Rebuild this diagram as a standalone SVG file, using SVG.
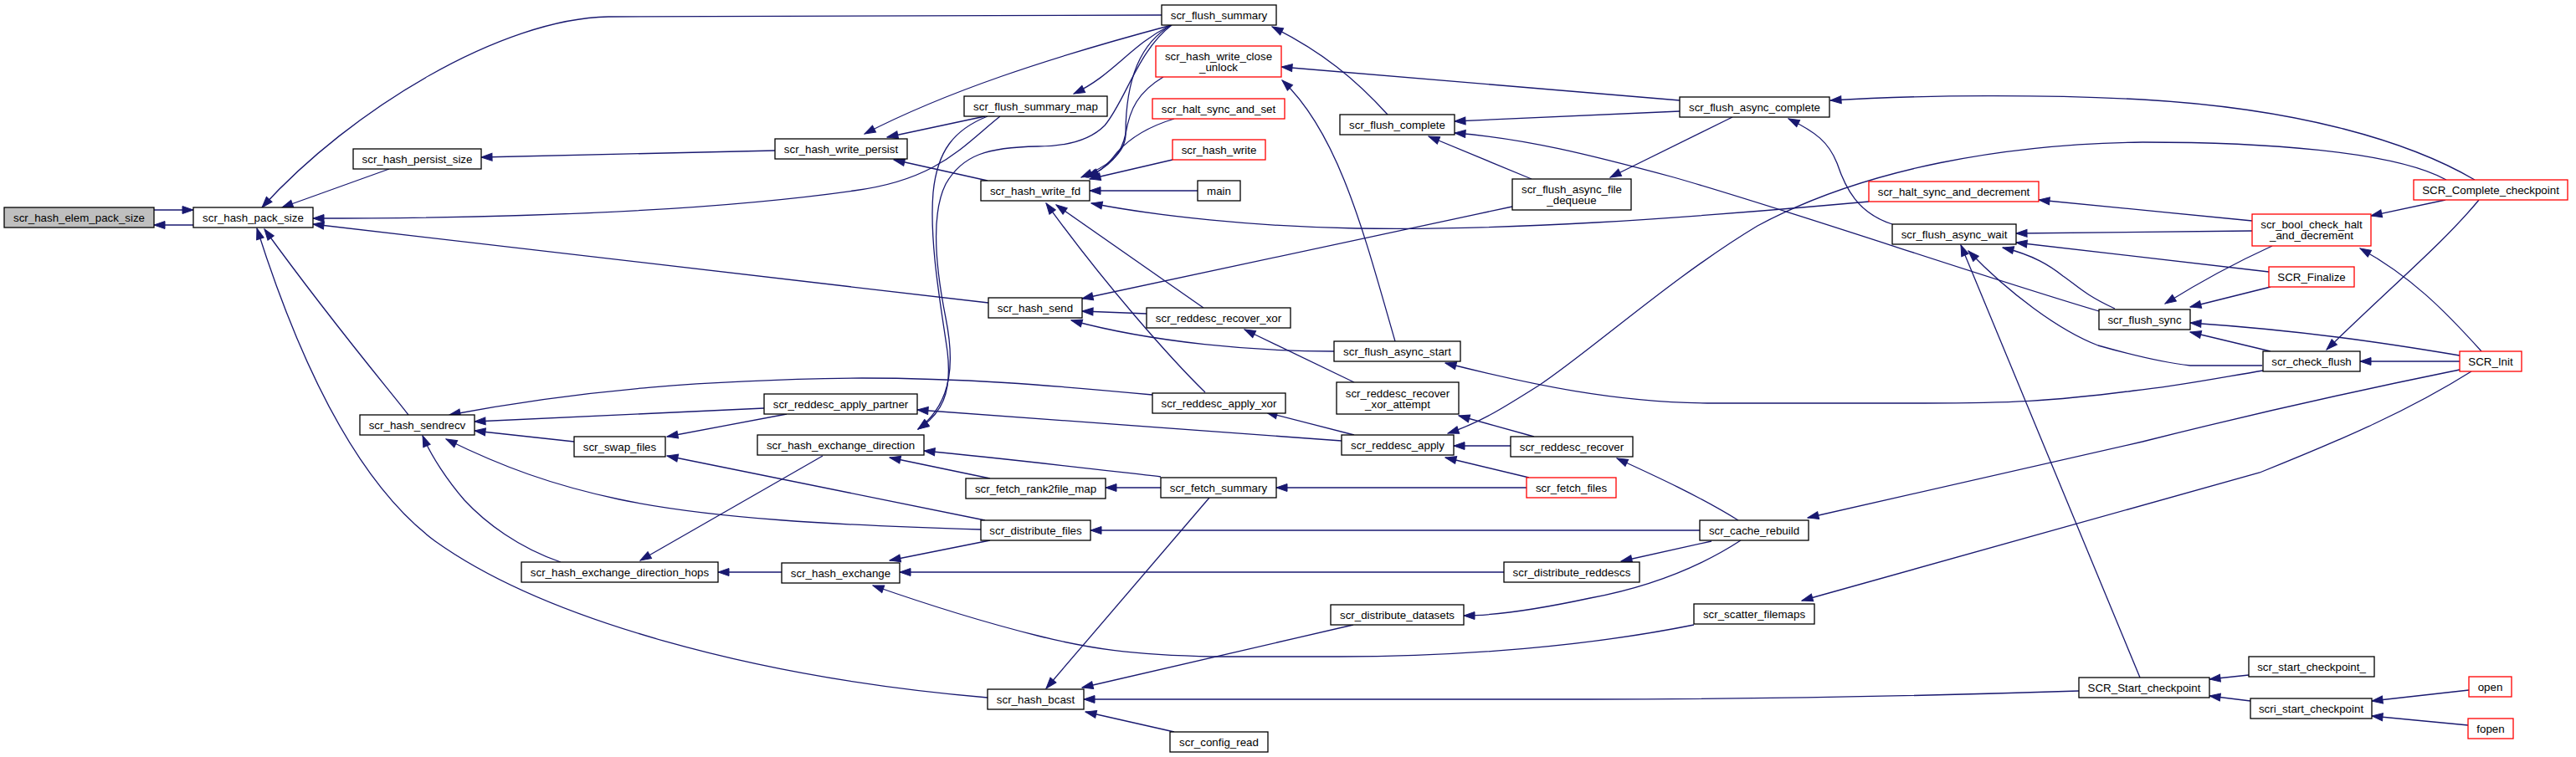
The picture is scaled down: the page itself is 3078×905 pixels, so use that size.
<svg xmlns="http://www.w3.org/2000/svg" width="3078" height="905" viewBox="0 0 3078 905">
<defs>
<style>
.n rect{fill:#fff;stroke:#000;stroke-width:1.3}
.n.r rect{stroke:#f00}
.n.g rect{fill:#bfbfbf}
text{font-family:"Liberation Sans",Arial,sans-serif;font-size:13.33px;text-anchor:middle;fill:#000}
.e path{fill:none;stroke:#191970;stroke-width:1.3;marker-end:url(#a)}
</style>
<marker id="a" markerUnits="userSpaceOnUse" markerWidth="15" markerHeight="11" viewBox="0 0 15 11" refX="14" refY="5.5" orient="auto"><path d="M1,1 L14,5.5 L1,10 z" fill="#191970" stroke="#191970" stroke-width="1"/></marker>
</defs>
<rect width="3078" height="905" fill="#fff"/>
<g id="edges" class="e">
<path d="M184,251 L231,251"/>
<path d="M231,269 L184,269"/>
<path d="M465,202 L337,248"/>
<path d="M1388,18 L727,20 C600,22 420,130 313,248"/>
<path d="M1195,139 C1150,175 1120,215 1020,228 C900,245 700,261 374,261"/>
<path d="M1181,362 L374,268"/>
<path d="M488,496 C470,472 400,390 316,274"/>
<path d="M1180,834 C900,810 650,740 520,647 C430,580 360,440 307,273"/>
<path d="M926,180 L575,188"/>
<path d="M1400,30 C1250,70 1130,110 1033,160"/>
<path d="M1177,139 L1060,164"/>
<path d="M1180,216 L1068,191"/>
<path d="M1397,31 C1350,55 1330,90 1283,112"/>
<path d="M1400,30 C1355,55 1345,110 1345,160 C1345,185 1320,200 1292,212"/>
<path d="M1390,92 C1360,110 1350,130 1345,160 C1340,185 1325,200 1298,212"/>
<path d="M1403,142 C1370,152 1350,165 1335,182 C1325,195 1318,203 1300,212"/>
<path d="M1401,191 L1302,214"/>
<path d="M1431,228 L1302,228"/>
<path d="M2233,241 C2000,262 1800,276 1620,273 C1500,271 1380,258 1304,243"/>
<path d="M1438,368 L1262,245"/>
<path d="M1440,469 C1400,430 1320,340 1250,243"/>
<path d="M1400,30 C1360,60 1345,120 1320,150 C1300,170 1270,175 1240,175 C1180,176 1150,185 1130,220 C1110,260 1120,330 1130,380 C1140,430 1140,480 1097,513"/>
<path d="M1180,139 C1140,155 1120,180 1115,230 C1110,290 1125,370 1132,420 C1138,470 1125,495 1097,513"/>
<path d="M1658,137 C1620,95 1580,62 1520,32"/>
<path d="M2007,120 L1531,80"/>
<path d="M1667,408 C1630,280 1600,160 1532,96"/>
<path d="M2007,133 L1738,145"/>
<path d="M2508,372 C2350,325 2150,255 2000,212 C1900,185 1820,165 1738,159"/>
<path d="M1830,214 L1707,163"/>
<path d="M2070,140 L1924,212"/>
<path d="M1807,247 L1293,357"/>
<path d="M1370,375 L1293,372"/>
<path d="M1594,420 C1500,420 1380,410 1280,383"/>
<path d="M1618,457 L1487,394"/>
<path d="M2704,443 C2650,452 2600,462 2550,467 C2450,480 2400,482 2300,482 L2040,482 C1930,481 1830,460 1727,434"/>
<path d="M2261,268 C2220,255 2205,225 2195,195 C2185,170 2170,158 2137,142"/>
<path d="M2957,215 C2880,170 2750,130 2560,119 C2450,113 2300,113 2187,120"/>
<path d="M2923,215 C2860,180 2700,170 2560,170 C2400,172 2230,200 2100,270 C2000,330 1900,420 1840,460 C1800,485 1770,505 1730,518"/>
<path d="M2922,239 L2833,258"/>
<path d="M2962,239 C2920,290 2860,340 2780,418"/>
<path d="M2691,264 L2436,239"/>
<path d="M2691,276 L2409,279"/>
<path d="M2711,325 L2409,290"/>
<path d="M2527,369 C2490,352 2480,340 2465,330 C2450,318 2430,305 2393,296"/>
<path d="M2557,810 L2343,293"/>
<path d="M2703,437 L2617,437 C2590,434 2560,428 2507,413 C2460,395 2400,350 2352,300"/>
<path d="M2715,294 C2680,310 2640,330 2587,363"/>
<path d="M2965,420 C2920,370 2880,330 2820,297"/>
<path d="M2713,343 L2617,367"/>
<path d="M2939,425 C2850,410 2750,395 2617,386"/>
<path d="M2713,420 L2617,397"/>
<path d="M2939,432 L2820,432"/>
<path d="M2939,442 C2900,450 2750,480 2560,528 L2160,619"/>
<path d="M2953,444 C2880,490 2800,525 2700,565 L2153,718"/>
<path d="M2687,807 L2640,812"/>
<path d="M2689,838 L2640,832"/>
<path d="M2950,825 L2834,838"/>
<path d="M2949,867 L2834,856"/>
<path d="M2484,826 C2300,832 2100,836 1900,836 L1295,836"/>
<path d="M2077,622 C2030,593 1980,570 1932,548"/>
<path d="M2031,634 L1303,634"/>
<path d="M2045,647 L1937,671"/>
<path d="M2080,646 C2040,672 1980,700 1900,715 C1830,730 1780,736 1749,736"/>
<path d="M1833,522 L1743,497"/>
<path d="M1805,533 L1737,533"/>
<path d="M1827,571 L1727,547"/>
<path d="M1824,583 L1525,583"/>
<path d="M1618,520 L1513,493"/>
<path d="M1603,527 L1096,490"/>
<path d="M1377,472 C1250,460 1150,452 1030,452 C850,454 700,465 537,496"/>
<path d="M913,488 L567,504"/>
<path d="M940,495 L797,522"/>
<path d="M686,528 L567,515"/>
<path d="M1177,622 L797,545"/>
<path d="M1172,633 C1000,628 850,620 740,597 C660,580 600,558 533,525"/>
<path d="M670,672 C620,655 580,625 555,598 C535,575 515,545 505,521"/>
<path d="M983,545 L765,670"/>
<path d="M934,684 L858,684"/>
<path d="M1387,570 C1300,560 1200,548 1104,539"/>
<path d="M1183,572 L1063,547"/>
<path d="M1183,646 L1063,670"/>
<path d="M1797,684 L1075,684"/>
<path d="M2024,747 C1900,772 1750,785 1600,785 L1450,785 C1350,783 1300,775 1240,760 C1160,740 1100,720 1043,700"/>
<path d="M1387,583 L1321,583"/>
<path d="M1445,595 L1250,823"/>
<path d="M1617,747 L1293,822"/>
<path d="M1403,875 L1297,851"/>
</g>
<g id="n1" class="n g"><rect x="5" y="248" width="179" height="24"/><text x="94.5" y="265">scr_hash_elem_pack_size</text></g>
<g id="n2" class="n"><rect x="231" y="248" width="143" height="24"/><text x="302.5" y="265">scr_hash_pack_size</text></g>
<g id="n3" class="n"><rect x="422" y="178" width="153" height="24"/><text x="498.5" y="195">scr_hash_persist_size</text></g>
<g id="n4" class="n"><rect x="926" y="166" width="158" height="24"/><text x="1005" y="183">scr_hash_write_persist</text></g>
<g id="n5" class="n"><rect x="430" y="496" width="137" height="24"/><text x="498.5" y="513">scr_hash_sendrecv</text></g>
<g id="n6" class="n"><rect x="686" y="522" width="109" height="24"/><text x="740.5" y="539">scr_swap_files</text></g>
<g id="n7" class="n"><rect x="623" y="672" width="235" height="24"/><text x="740.5" y="689">scr_hash_exchange_direction_hops</text></g>
<g id="n8" class="n"><rect x="1388" y="6" width="137" height="24"/><text x="1456.5" y="23">scr_flush_summary</text></g>
<g id="n9" class="n r"><rect x="1381" y="55" width="150" height="37"/><text x="1456" y="71.5">scr_hash_write_close</text><text x="1456" y="84.5">_unlock</text></g>
<g id="n10" class="n"><rect x="1152" y="115" width="171" height="24"/><text x="1237.5" y="132">scr_flush_summary_map</text></g>
<g id="n11" class="n r"><rect x="1377" y="118" width="158" height="24"/><text x="1456" y="135">scr_halt_sync_and_set</text></g>
<g id="n12" class="n r"><rect x="1401" y="167" width="111" height="24"/><text x="1456.5" y="184">scr_hash_write</text></g>
<g id="n13" class="n"><rect x="1172" y="216" width="130" height="24"/><text x="1237" y="233">scr_hash_write_fd</text></g>
<g id="n14" class="n"><rect x="1431" y="216" width="51" height="24"/><text x="1456.5" y="233">main</text></g>
<g id="n15" class="n"><rect x="1181" y="356" width="112" height="24"/><text x="1237" y="373">scr_hash_send</text></g>
<g id="n16" class="n"><rect x="1370" y="368" width="172" height="24"/><text x="1456" y="385">scr_reddesc_recover_xor</text></g>
<g id="n17" class="n"><rect x="913" y="471" width="183" height="24"/><text x="1004.5" y="488">scr_reddesc_apply_partner</text></g>
<g id="n18" class="n"><rect x="905" y="520" width="199" height="24"/><text x="1004.5" y="537">scr_hash_exchange_direction</text></g>
<g id="n19" class="n"><rect x="1377" y="470" width="159" height="24"/><text x="1456.5" y="487">scr_reddesc_apply_xor</text></g>
<g id="n20" class="n"><rect x="1154" y="572" width="167" height="24"/><text x="1237.5" y="589">scr_fetch_rank2file_map</text></g>
<g id="n21" class="n"><rect x="1387" y="571" width="138" height="24"/><text x="1456" y="588">scr_fetch_summary</text></g>
<g id="n22" class="n"><rect x="1172" y="622" width="131" height="24"/><text x="1237.5" y="639">scr_distribute_files</text></g>
<g id="n23" class="n"><rect x="934" y="673" width="141" height="24"/><text x="1004.5" y="690">scr_hash_exchange</text></g>
<g id="n24" class="n"><rect x="1180" y="824" width="115" height="24"/><text x="1237.5" y="841">scr_hash_bcast</text></g>
<g id="n25" class="n"><rect x="1398" y="875" width="117" height="24"/><text x="1456.5" y="892">scr_config_read</text></g>
<g id="n26" class="n"><rect x="1601" y="137" width="137" height="24"/><text x="1669.5" y="154">scr_flush_complete</text></g>
<g id="n27" class="n"><rect x="1807" y="214" width="142" height="37"/><text x="1878" y="230.5">scr_flush_async_file</text><text x="1878" y="243.5">_dequeue</text></g>
<g id="n28" class="n"><rect x="1594" y="408" width="151" height="24"/><text x="1669.5" y="425">scr_flush_async_start</text></g>
<g id="n29" class="n"><rect x="1597" y="457" width="146" height="38"/><text x="1670" y="474.5">scr_reddesc_recover</text><text x="1670" y="487.5">_xor_attempt</text></g>
<g id="n30" class="n"><rect x="1603" y="520" width="134" height="24"/><text x="1670" y="537">scr_reddesc_apply</text></g>
<g id="n31" class="n"><rect x="1805" y="522" width="146" height="24"/><text x="1878" y="539">scr_reddesc_recover</text></g>
<g id="n32" class="n r"><rect x="1824" y="571" width="107" height="24"/><text x="1877.5" y="588">scr_fetch_files</text></g>
<g id="n33" class="n"><rect x="1797" y="672" width="162" height="24"/><text x="1878" y="689">scr_distribute_reddescs</text></g>
<g id="n34" class="n"><rect x="1590" y="723" width="159" height="24"/><text x="1669.5" y="740">scr_distribute_datasets</text></g>
<g id="n35" class="n"><rect x="2007" y="116" width="179" height="24"/><text x="2096.5" y="133">scr_flush_async_complete</text></g>
<g id="n36" class="n r"><rect x="2233" y="217" width="203" height="24"/><text x="2334.5" y="234">scr_halt_sync_and_decrement</text></g>
<g id="n37" class="n"><rect x="2261" y="268" width="148" height="24"/><text x="2335" y="285">scr_flush_async_wait</text></g>
<g id="n38" class="n"><rect x="2508" y="370" width="109" height="24"/><text x="2562.5" y="387">scr_flush_sync</text></g>
<g id="n39" class="n"><rect x="2031" y="622" width="130" height="24"/><text x="2096" y="639">scr_cache_rebuild</text></g>
<g id="n40" class="n"><rect x="2024" y="722" width="144" height="24"/><text x="2096" y="739">scr_scatter_filemaps</text></g>
<g id="n41" class="n"><rect x="2484" y="810" width="156" height="24"/><text x="2562" y="827">SCR_Start_checkpoint</text></g>
<g id="n42" class="n r"><rect x="2884" y="215" width="184" height="24"/><text x="2976" y="232">SCR_Complete_checkpoint</text></g>
<g id="n43" class="n r"><rect x="2691" y="256" width="142" height="38"/><text x="2762" y="272.5">scr_bool_check_halt</text><text x="2762" y="286">_and_decrement</text></g>
<g id="n44" class="n r"><rect x="2711" y="319" width="102" height="24"/><text x="2762" y="336">SCR_Finalize</text></g>
<g id="n45" class="n"><rect x="2704" y="420" width="116" height="24"/><text x="2762" y="437">scr_check_flush</text></g>
<g id="n46" class="n r"><rect x="2939" y="420" width="74" height="24"/><text x="2976" y="437">SCR_Init</text></g>
<g id="n47" class="n"><rect x="2687" y="785" width="150" height="24"/><text x="2762" y="802">scr_start_checkpoint_</text></g>
<g id="n48" class="n"><rect x="2689" y="835" width="145" height="24"/><text x="2761.5" y="852">scri_start_checkpoint</text></g>
<g id="n49" class="n r"><rect x="2950" y="809" width="51" height="24"/><text x="2975.5" y="826">open</text></g>
<g id="n50" class="n r"><rect x="2949" y="859" width="54" height="24"/><text x="2976" y="876">fopen</text></g>
</svg>
